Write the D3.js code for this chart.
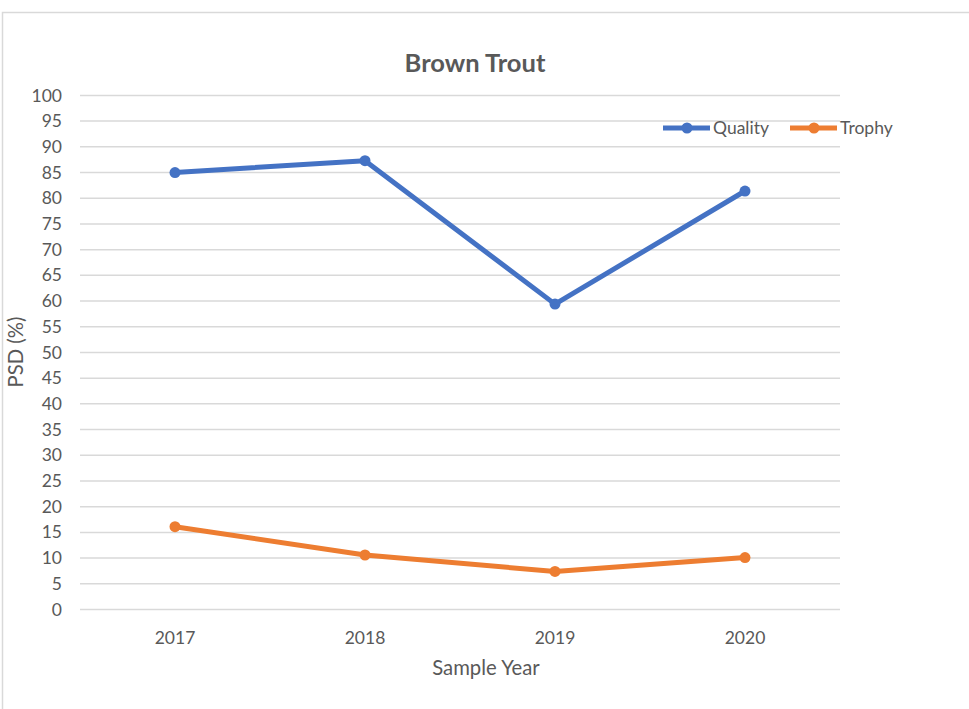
<!DOCTYPE html>
<html>
<head>
<meta charset="utf-8">
<script src="https://cdn.jsdelivr.net/npm/d3@7"></script>
<style>
  html, body { margin: 0; padding: 0; background: #fff; }
  svg { display: block; }
  text { font-family: Lato, "Open Sans", sans-serif; fill: #595959; }
</style>
</head>
<body>
<svg id="chart" width="969" height="709"></svg>
<script>
const title = "Brown Trout";
const years = ["2017", "2018", "2019", "2020"];
const quality = [85.0, 87.3, 59.4, 81.4];
const trophy = [16.1, 10.6, 7.4, 10.1];
const yTicks = [0, 5, 10, 15, 20, 25, 30, 35, 40, 45, 50, 55, 60, 65, 70, 75, 80, 85, 90, 95, 100];
const seriesNames = ["Quality", "Trophy"];
const seriesColors = ["#4472C4", "#ED7D31"];
const xTitle = "Sample Year";
const yTitle = "PSD (%)";

const svg = d3.select("#chart");
const plot = { left: 80, right: 840, top: 95.4, bottom: 609.5 };

// outer frame
svg.append("rect")
  .attr("x", 2.5).attr("y", 12.5)
  .attr("width", 1000).attr("height", 800)
  .attr("fill", "none").attr("stroke", "#d9d9d9").attr("stroke-width", 1.5);

const x = d3.scaleBand().domain(years).range([plot.left, plot.right]);
const y = d3.scaleLinear().domain([0, 100]).range([plot.bottom, plot.top]);

// gridlines
svg.append("g")
  .selectAll("line").data(yTicks).join("line")
  .attr("x1", plot.left).attr("x2", plot.right)
  .attr("y1", d => y(d)).attr("y2", d => y(d))
  .attr("stroke", "#d9d9d9").attr("stroke-width", 1.5);

// y axis labels
const yAxis = svg.append("g")
  .attr("transform", `translate(${plot.left},0)`)
  .call(d3.axisLeft(y).tickValues(yTicks).tickSize(0).tickPadding(18));
yAxis.select(".domain").remove();
yAxis.selectAll("text").attr("font-size", 17.5).attr("fill", "#595959")
  .style("font-family", "Lato, 'Open Sans', sans-serif");

// x axis labels
const xAxis = svg.append("g")
  .attr("transform", `translate(0,${plot.bottom})`)
  .call(d3.axisBottom(x).tickSize(0).tickPadding(22));
xAxis.select(".domain").remove();
xAxis.selectAll("text").attr("font-size", 17.5).attr("fill", "#595959")
  .style("font-family", "Lato, 'Open Sans', sans-serif");

const cx = d => x(d) + x.bandwidth() / 2;
const series = [quality, trophy];

series.forEach((vals, i) => {
  const pts = years.map((yr, j) => [cx(yr), y(vals[j])]);
  svg.append("path")
    .attr("d", d3.line()(pts))
    .attr("fill", "none")
    .attr("stroke", seriesColors[i])
    .attr("stroke-width", 5)
    .attr("stroke-linejoin", "round")
    .attr("stroke-linecap", "round");
  svg.append("g").selectAll("circle").data(pts).join("circle")
    .attr("cx", d => d[0]).attr("cy", d => d[1]).attr("r", 5.5)
    .attr("fill", seriesColors[i]);
});

// title
svg.append("text")
  .attr("x", 475).attr("y", 72)
  .attr("text-anchor", "middle")
  .attr("font-size", 25.5).attr("font-weight", "bold")
  .text(title);

// axis titles
svg.append("text")
  .attr("x", 486).attr("y", 675)
  .attr("text-anchor", "middle")
  .attr("font-size", 20.3)
  .text(xTitle);

svg.append("text")
  .attr("transform", "translate(23,352) rotate(-90)")
  .attr("text-anchor", "middle")
  .attr("font-size", 20.3)
  .text(yTitle);

// legend
const legendItems = [
  { name: seriesNames[0], color: seriesColors[0], x: 663 },
  { name: seriesNames[1], color: seriesColors[1], x: 790 }
];
const lg = svg.append("g");
legendItems.forEach(it => {
  lg.append("line")
    .attr("x1", it.x).attr("x2", it.x + 47)
    .attr("y1", 128).attr("y2", 128)
    .attr("stroke", it.color).attr("stroke-width", 5);
  lg.append("circle")
    .attr("cx", it.x + 24).attr("cy", 128).attr("r", 5.5)
    .attr("fill", it.color);
  lg.append("text")
    .attr("x", it.x + 50).attr("y", 128)
    .attr("dy", "0.35em")
    .attr("font-size", 17.5)
    .text(it.name);
});
</script>
</body>
</html>
